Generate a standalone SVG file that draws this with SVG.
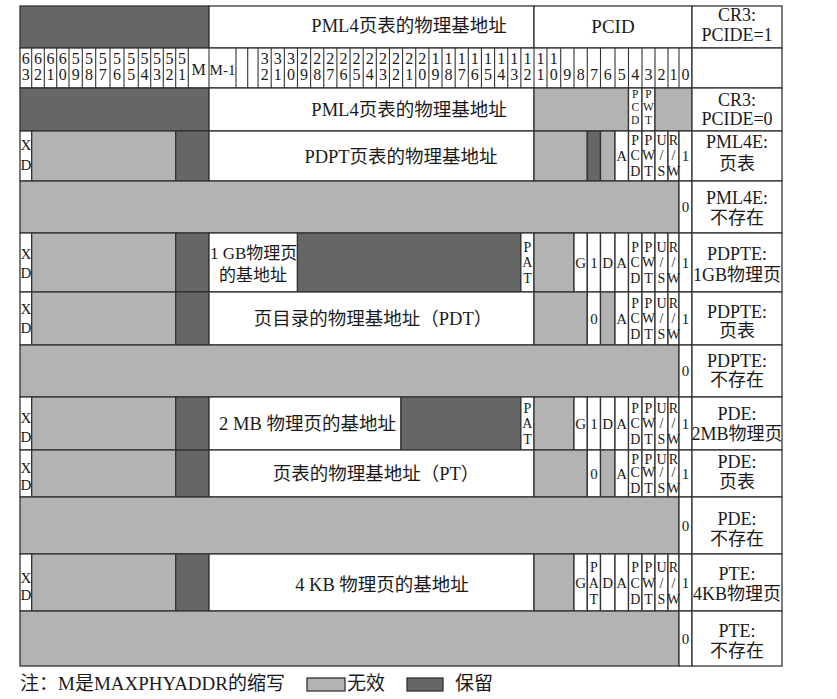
<svg xmlns="http://www.w3.org/2000/svg" width="837" height="699" viewBox="0 0 837 699">
<style>
rect{stroke:#333;stroke-width:1.3}
.w{fill:#fff}.g{fill:#b3b3b3}.k{fill:#666}
text{font-family:"Liberation Serif","Noto Sans CJK SC",serif;fill:#1a1a1a}
.m{font-size:18.5px;text-anchor:middle}
.l{font-size:18px;text-anchor:middle}
.f{font-size:14px;text-anchor:middle}
.p{font-size:11.5px;text-anchor:middle}
.s{font-size:15px;text-anchor:middle}
.h{font-size:16px;text-anchor:middle}
.x{font-size:15px;text-anchor:middle}
.grid{stroke:#333;stroke-width:1.1;fill:none}
</style>

<!-- CR3 with PCIDE=1 -->
<g id="cr3-pcide1">
<rect class="k" x="20" y="6" width="189" height="42"/>
<rect class="w" x="209" y="6" width="325" height="42"/>
<rect class="w" x="534" y="6" width="158" height="42"/>
<rect class="w" x="692" y="6" width="90" height="42"/>
<text class="m" x="409" y="32">PML4页表的物理基地址</text>
<text class="m" x="613" y="33" style="font-size:19px">PCID</text>
<text class="l" x="737" y="21">CR3:</text>
<text class="l" x="737" y="41">PCIDE=1</text>
</g>

<!-- bit numbers -->
<g id="bit-numbers">
<rect class="w" x="20" y="48" width="672" height="40"/>
<rect class="w" x="692" y="48" width="90" height="40"/>
<path class="grid" d="M31.7 48V88M44.3 48V88M56.7 48V88M69 48V88M82.3 48V88M95.7 48V88M110 48V88M124 48V88M138.3 48V88M150.7 48V88M163.3 48V88M175.7 48V88M188.3 48V88M209 48V88M236 48V88M247.7 48V88M258.06 48V88M271.2 48V88M284.34 48V88M297.48 48V88M310.62 48V88M323.76 48V88M336.9 48V88M350.04 48V88M363.18 48V88M376.32 48V88M389.46 48V88M402.6 48V88M415.74 48V88M428.88 48V88M442.02 48V88M455.16 48V88M468.3 48V88M481.44 48V88M494.58 48V88M507.72 48V88M520.86 48V88M534 48V88M547 48V88M560.7 48V88M574 48V88M587.3 48V88M600.5 48V88M615 48V88M628.5 48V88M642 48V88M655 48V88M668 48V88M679 48V88"/>
<text class="h" x="25.85 38 50.5 62.85 75.65 89 102.85 117 131.15 144.5 157 169.5 182" y="64">6666555555555</text>
<text class="h" x="25.85 38 50.5 62.85 75.65 89 102.85 117 131.15 144.5 157 169.5 182" y="80">3210987654321</text>
<text class="h" x="198.65" y="75">M</text>
<text class="h" x="222.5" y="75" style="font-size:15px">M-1</text>
<text class="h" x="264.63 277.77 290.91 304.05 317.19 330.33 343.47 356.61 369.75 382.89 396.03 409.17 422.31 435.45 448.59 461.73 474.87 488.01 501.15 514.29 527.43 540.5 553.85" y="64">33322222222221111111111</text>
<text class="h" x="264.63 277.77 290.91 304.05 317.19 330.33 343.47 356.61 369.75 382.89 396.03 409.17 422.31 435.45 448.59 461.73 474.87 488.01 501.15 514.29 527.43 540.5 553.85 567.35 580.65 593.9 607.75 621.75 635.25 648.5 661.5 673.5 685.5" y="80">210987654321098765432109876543210</text>
</g>

<!-- CR3 with PCIDE=0 -->
<g id="cr3-pcide0">
<rect class="k" x="20" y="88" width="189" height="43"/>
<rect class="w" x="209" y="88" width="325" height="43"/>
<rect class="g" x="534" y="88" width="94.5" height="43"/>
<rect class="w" x="628.5" y="88" width="13.5" height="43"/>
<rect class="w" x="642" y="88" width="13" height="43"/>
<rect class="g" x="655" y="88" width="37" height="43"/>
<rect class="w" x="692" y="88" width="90" height="43"/>
<text class="m" x="409" y="116">PML4页表的物理基地址</text>
<text class="p" x="635.25" y="98">P</text>
<text class="p" x="635.25" y="111">C</text>
<text class="p" x="635.25" y="124">D</text>
<text class="p" x="648.5" y="98">P</text>
<text class="p" x="648.5" y="111">W</text>
<text class="p" x="648.5" y="124">T</text>
<text class="l" x="737" y="106">CR3:</text>
<text class="l" x="737" y="125">PCIDE=0</text>
</g>

<!-- PML4E referencing a page table -->
<g id="pml4e-table">
<rect class="w" x="20" y="131" width="11.7" height="50"/>
<rect class="g" x="31.7" y="131" width="144" height="50"/>
<rect class="k" x="175.7" y="131" width="33.3" height="50"/>
<rect class="w" x="209" y="131" width="325" height="50"/>
<rect class="g" x="534" y="131" width="53.3" height="50"/>
<rect class="k" x="587.3" y="131" width="13.2" height="50"/>
<rect class="g" x="600.5" y="131" width="14.5" height="50"/>
<rect class="w" x="615" y="131" width="13.5" height="50"/>
<rect class="w" x="628.5" y="131" width="13.5" height="50"/>
<rect class="w" x="642" y="131" width="13" height="50"/>
<rect class="w" x="655" y="131" width="13" height="50"/>
<rect class="w" x="668" y="131" width="11" height="50"/>
<rect class="w" x="679" y="131" width="13" height="50"/>
<rect class="w" x="692" y="131" width="90" height="50"/>
<text class="x" x="25.85" y="150">X</text><text class="x" x="25.85" y="170">D</text>
<text class="m" x="401" y="162.5">PDPT页表的物理基地址</text>
<text class="s" x="621.75" y="161">A</text>
<text class="f" x="635.25" y="145">P</text><text class="f" x="635.25" y="160">C</text><text class="f" x="635.25" y="176">D</text>
<text class="f" x="648.5" y="145">P</text><text class="f" x="648.5" y="160">W</text><text class="f" x="648.5" y="176">T</text>
<text class="f" x="661.5" y="145">U</text><text class="f" x="661.5" y="160">/</text><text class="f" x="661.5" y="176">S</text>
<text class="f" x="673.5" y="145">R</text><text class="f" x="673.5" y="160">/</text><text class="f" x="673.5" y="176">W</text>
<text class="s" x="685.5" y="161">1</text>
<text class="l" x="737" y="148">PML4E:</text>
<text class="l" x="737" y="170">页表</text>
</g>

<!-- PML4E not present -->
<g id="pml4e-absent">
<rect class="g" x="20" y="181" width="659" height="52"/>
<rect class="w" x="679" y="181" width="13" height="52"/>
<rect class="w" x="692" y="181" width="90" height="52"/>
<text class="s" x="685.5" y="212">0</text>
<text class="l" x="737" y="204">PML4E:</text>
<text class="l" x="737" y="224">不存在</text>
</g>

<!-- PDPTE mapping a 1 GB page -->
<g id="pdpte-1gb">
<rect class="w" x="20" y="233" width="11.7" height="59"/>
<rect class="g" x="31.7" y="233" width="144" height="59"/>
<rect class="k" x="175.7" y="233" width="33.3" height="59"/>
<rect class="w" x="209" y="233" width="88.48" height="59"/>
<rect class="k" x="297.48" y="233" width="223.38" height="59"/>
<rect class="w" x="520.86" y="233" width="13.14" height="59"/>
<rect class="g" x="534" y="233" width="40" height="59"/>
<rect class="w" x="574" y="233" width="13.3" height="59"/>
<rect class="w" x="587.3" y="233" width="13.2" height="59"/>
<rect class="w" x="600.5" y="233" width="14.5" height="59"/>
<rect class="w" x="615" y="233" width="13.5" height="59"/>
<rect class="w" x="628.5" y="233" width="13.5" height="59"/>
<rect class="w" x="642" y="233" width="13" height="59"/>
<rect class="w" x="655" y="233" width="13" height="59"/>
<rect class="w" x="668" y="233" width="11" height="59"/>
<rect class="w" x="679" y="233" width="13" height="59"/>
<rect class="w" x="692" y="233" width="90" height="59"/>
<text class="x" x="25.85" y="259">X</text><text class="x" x="25.85" y="278">D</text>
<text class="m" x="210" y="259" style="text-anchor:start;font-size:17px">1 GB物理页</text>
<text class="m" x="219" y="281" style="text-anchor:start;font-size:17px">的基地址</text>
<text class="f" x="527.43" y="251.5">P</text><text class="f" x="527.43" y="266.5">A</text><text class="f" x="527.43" y="282.5">T</text>
<text class="s" x="580.65" y="268">G</text>
<text class="s" x="593.9" y="268">1</text>
<text class="s" x="607.75" y="268">D</text>
<text class="s" x="621.75" y="268">A</text>
<text class="f" x="635.25" y="251.5">P</text><text class="f" x="635.25" y="266.5">C</text><text class="f" x="635.25" y="282.5">D</text>
<text class="f" x="648.5" y="251.5">P</text><text class="f" x="648.5" y="266.5">W</text><text class="f" x="648.5" y="282.5">T</text>
<text class="f" x="661.5" y="251.5">U</text><text class="f" x="661.5" y="266.5">/</text><text class="f" x="661.5" y="282.5">S</text>
<text class="f" x="673.5" y="251.5">R</text><text class="f" x="673.5" y="266.5">/</text><text class="f" x="673.5" y="282.5">W</text>
<text class="s" x="685.5" y="268">1</text>
<text class="l" x="737" y="260">PDPTE:</text>
<text class="l" x="737" y="281">1GB物理页</text>
</g>

<!-- PDPTE referencing a page directory -->
<g id="pdpte-table">
<rect class="w" x="20" y="292" width="11.7" height="53"/>
<rect class="g" x="31.7" y="292" width="144" height="53"/>
<rect class="k" x="175.7" y="292" width="33.3" height="53"/>
<rect class="w" x="209" y="292" width="325" height="53"/>
<rect class="g" x="534" y="292" width="53.3" height="53"/>
<rect class="w" x="587.3" y="292" width="13.2" height="53"/>
<rect class="g" x="600.5" y="292" width="14.5" height="53"/>
<rect class="w" x="615" y="292" width="13.5" height="53"/>
<rect class="w" x="628.5" y="292" width="13.5" height="53"/>
<rect class="w" x="642" y="292" width="13" height="53"/>
<rect class="w" x="655" y="292" width="13" height="53"/>
<rect class="w" x="668" y="292" width="11" height="53"/>
<rect class="w" x="679" y="292" width="13" height="53"/>
<rect class="w" x="692" y="292" width="90" height="53"/>
<text class="x" x="25.85" y="314">X</text><text class="x" x="25.85" y="333">D</text>
<text class="m" x="373" y="325">页目录的物理基地址（PDT）</text>
<text class="s" x="593.9" y="324">0</text>
<text class="s" x="621.75" y="324">A</text>
<text class="f" x="635.25" y="307.5">P</text><text class="f" x="635.25" y="322.5">C</text><text class="f" x="635.25" y="338.5">D</text>
<text class="f" x="648.5" y="307.5">P</text><text class="f" x="648.5" y="322.5">W</text><text class="f" x="648.5" y="338.5">T</text>
<text class="f" x="661.5" y="307.5">U</text><text class="f" x="661.5" y="322.5">/</text><text class="f" x="661.5" y="338.5">S</text>
<text class="f" x="673.5" y="307.5">R</text><text class="f" x="673.5" y="322.5">/</text><text class="f" x="673.5" y="338.5">W</text>
<text class="s" x="685.5" y="324">1</text>
<text class="l" x="737" y="318">PDPTE:</text>
<text class="l" x="737" y="337">页表</text>
</g>

<!-- PDPTE not present -->
<g id="pdpte-absent">
<rect class="g" x="20" y="345" width="659" height="52"/>
<rect class="w" x="679" y="345" width="13" height="52"/>
<rect class="w" x="692" y="345" width="90" height="52"/>
<text class="s" x="685.5" y="376">0</text>
<text class="l" x="737" y="367">PDPTE:</text>
<text class="l" x="737" y="386">不存在</text>
</g>

<!-- PDE mapping a 2 MB page -->
<g id="pde-2mb">
<rect class="w" x="20" y="397" width="11.7" height="53"/>
<rect class="g" x="31.7" y="397" width="144" height="53"/>
<rect class="k" x="175.7" y="397" width="33.3" height="53"/>
<rect class="w" x="209" y="397" width="192" height="53"/>
<rect class="k" x="401" y="397" width="119.86" height="53"/>
<rect class="w" x="520.86" y="397" width="13.14" height="53"/>
<rect class="g" x="534" y="397" width="40" height="53"/>
<rect class="w" x="574" y="397" width="13.3" height="53"/>
<rect class="w" x="587.3" y="397" width="13.2" height="53"/>
<rect class="w" x="600.5" y="397" width="14.5" height="53"/>
<rect class="w" x="615" y="397" width="13.5" height="53"/>
<rect class="w" x="628.5" y="397" width="13.5" height="53"/>
<rect class="w" x="642" y="397" width="13" height="53"/>
<rect class="w" x="655" y="397" width="13" height="53"/>
<rect class="w" x="668" y="397" width="11" height="53"/>
<rect class="w" x="679" y="397" width="13" height="53"/>
<rect class="w" x="692" y="397" width="90" height="53"/>
<text class="x" x="25.85" y="423">X</text><text class="x" x="25.85" y="442">D</text>
<text class="m" x="307.5" y="430">2 MB 物理页的基地址</text>
<text class="f" x="527.43" y="412.5">P</text><text class="f" x="527.43" y="427.5">A</text><text class="f" x="527.43" y="443.5">T</text>
<text class="s" x="580.65" y="429">G</text>
<text class="s" x="593.9" y="429">1</text>
<text class="s" x="607.75" y="429">D</text>
<text class="s" x="621.75" y="429">A</text>
<text class="f" x="635.25" y="412.5">P</text><text class="f" x="635.25" y="427.5">C</text><text class="f" x="635.25" y="443.5">D</text>
<text class="f" x="648.5" y="412.5">P</text><text class="f" x="648.5" y="427.5">W</text><text class="f" x="648.5" y="443.5">T</text>
<text class="f" x="661.5" y="412.5">U</text><text class="f" x="661.5" y="427.5">/</text><text class="f" x="661.5" y="443.5">S</text>
<text class="f" x="673.5" y="412.5">R</text><text class="f" x="673.5" y="427.5">/</text><text class="f" x="673.5" y="443.5">W</text>
<text class="s" x="685.5" y="429">1</text>
<text class="l" x="737" y="420">PDE:</text>
<text class="l" x="737" y="440">2MB物理页</text>
</g>

<!-- PDE referencing a page table -->
<g id="pde-table">
<rect class="w" x="20" y="450" width="11.7" height="47"/>
<rect class="g" x="31.7" y="450" width="144" height="47"/>
<rect class="k" x="175.7" y="450" width="33.3" height="47"/>
<rect class="w" x="209" y="450" width="325" height="47"/>
<rect class="g" x="534" y="450" width="53.3" height="47"/>
<rect class="w" x="587.3" y="450" width="13.2" height="47"/>
<rect class="g" x="600.5" y="450" width="14.5" height="47"/>
<rect class="w" x="615" y="450" width="13.5" height="47"/>
<rect class="w" x="628.5" y="450" width="13.5" height="47"/>
<rect class="w" x="642" y="450" width="13" height="47"/>
<rect class="w" x="655" y="450" width="13" height="47"/>
<rect class="w" x="668" y="450" width="11" height="47"/>
<rect class="w" x="679" y="450" width="13" height="47"/>
<rect class="w" x="692" y="450" width="90" height="47"/>
<text class="x" x="25.85" y="473">X</text><text class="x" x="25.85" y="490">D</text>
<text class="m" x="376" y="480">页表的物理基地址（PT）</text>
<text class="s" x="593.9" y="479">0</text>
<text class="s" x="621.75" y="479">A</text>
<text class="f" x="635.25" y="463.5">P</text><text class="f" x="635.25" y="477">C</text><text class="f" x="635.25" y="492.5">D</text>
<text class="f" x="648.5" y="463.5">P</text><text class="f" x="648.5" y="477">W</text><text class="f" x="648.5" y="492.5">T</text>
<text class="f" x="661.5" y="463.5">U</text><text class="f" x="661.5" y="477">/</text><text class="f" x="661.5" y="492.5">S</text>
<text class="f" x="673.5" y="463.5">R</text><text class="f" x="673.5" y="477">/</text><text class="f" x="673.5" y="492.5">W</text>
<text class="s" x="685.5" y="479">1</text>
<text class="l" x="737" y="468">PDE:</text>
<text class="l" x="737" y="488">页表</text>
</g>

<!-- PDE not present -->
<g id="pde-absent">
<rect class="g" x="20" y="497" width="659" height="57"/>
<rect class="w" x="679" y="497" width="13" height="57"/>
<rect class="w" x="692" y="497" width="90" height="57"/>
<text class="s" x="685.5" y="531">0</text>
<text class="l" x="737" y="525">PDE:</text>
<text class="l" x="737" y="545">不存在</text>
</g>

<!-- PTE mapping a 4 KB page -->
<g id="pte-4kb">
<rect class="w" x="20" y="554" width="11.7" height="57"/>
<rect class="g" x="31.7" y="554" width="144" height="57"/>
<rect class="k" x="175.7" y="554" width="33.3" height="57"/>
<rect class="w" x="209" y="554" width="325" height="57"/>
<rect class="g" x="534" y="554" width="40" height="57"/>
<rect class="w" x="574" y="554" width="13.3" height="57"/>
<rect class="w" x="587.3" y="554" width="13.2" height="57"/>
<rect class="w" x="600.5" y="554" width="14.5" height="57"/>
<rect class="w" x="615" y="554" width="13.5" height="57"/>
<rect class="w" x="628.5" y="554" width="13.5" height="57"/>
<rect class="w" x="642" y="554" width="13" height="57"/>
<rect class="w" x="655" y="554" width="13" height="57"/>
<rect class="w" x="668" y="554" width="11" height="57"/>
<rect class="w" x="679" y="554" width="13" height="57"/>
<rect class="w" x="692" y="554" width="90" height="57"/>
<text class="x" x="25.85" y="583">X</text><text class="x" x="25.85" y="600">D</text>
<text class="m" x="382" y="591">4 KB 物理页的基地址</text>
<text class="s" x="580.65" y="588">G</text>
<text class="f" x="593.9" y="572">P</text><text class="f" x="593.9" y="587.5">A</text><text class="f" x="593.9" y="604">T</text>
<text class="s" x="607.75" y="588">D</text>
<text class="s" x="621.75" y="588">A</text>
<text class="f" x="635.25" y="572">P</text><text class="f" x="635.25" y="587.5">C</text><text class="f" x="635.25" y="604">D</text>
<text class="f" x="648.5" y="572">P</text><text class="f" x="648.5" y="587.5">W</text><text class="f" x="648.5" y="604">T</text>
<text class="f" x="661.5" y="572">U</text><text class="f" x="661.5" y="587.5">/</text><text class="f" x="661.5" y="604">S</text>
<text class="f" x="673.5" y="572">R</text><text class="f" x="673.5" y="587.5">/</text><text class="f" x="673.5" y="604">W</text>
<text class="s" x="685.5" y="588">1</text>
<text class="l" x="737" y="580">PTE:</text>
<text class="l" x="737" y="600">4KB物理页</text>
</g>

<!-- PTE not present -->
<g id="pte-absent">
<rect class="g" x="20" y="611" width="659" height="55"/>
<rect class="w" x="679" y="611" width="13" height="55"/>
<rect class="w" x="692" y="611" width="90" height="55"/>
<text class="s" x="685.5" y="644">0</text>
<text class="l" x="737" y="637">PTE:</text>
<text class="l" x="737" y="657">不存在</text>
</g>

<!-- legend -->
<g id="legend">
<text x="20" y="690" style="font-size:19px">注：M是MAXPHYADDR的缩写</text>
<rect class="g" x="307" y="678" width="38" height="13"/>
<text x="347" y="690" style="font-size:19px">无效</text>
<rect class="k" x="407" y="678" width="36" height="13"/>
<text x="455" y="690" style="font-size:19px">保留</text>
</g>
</svg>
